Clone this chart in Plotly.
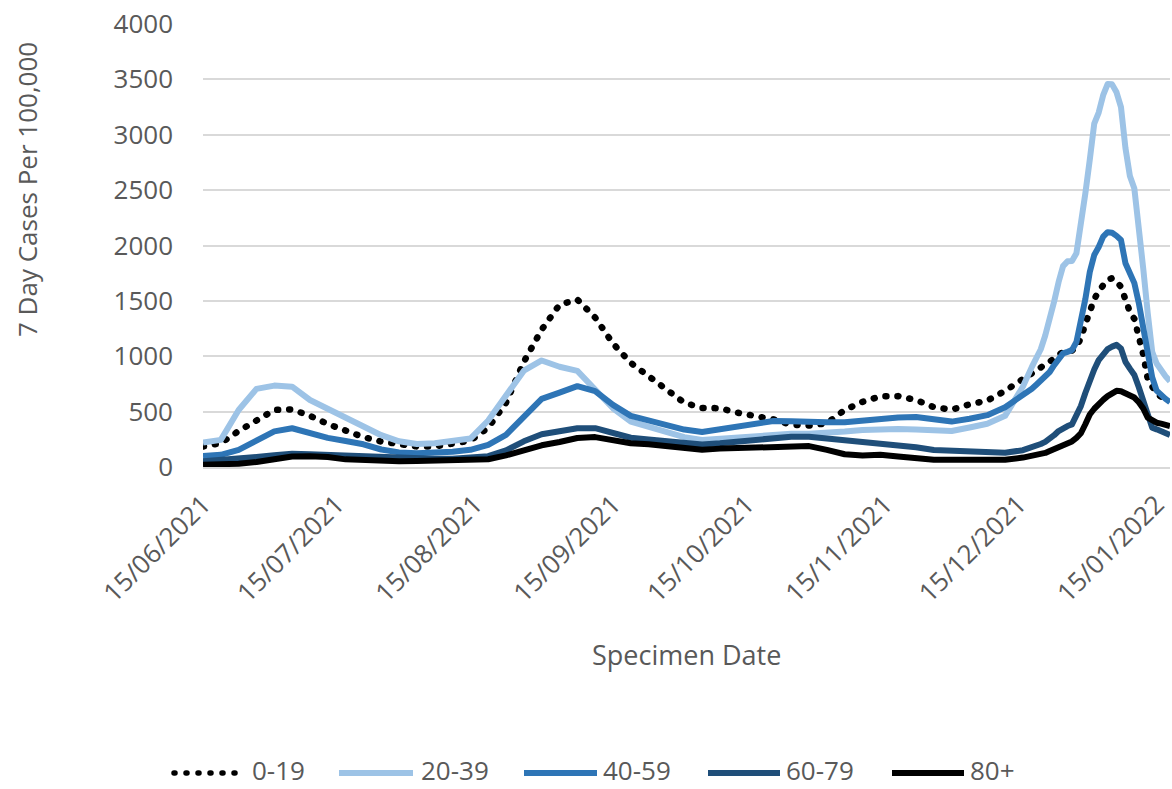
import pandas as pd
import plotly.graph_objects as go

# Specimen dates: every 4 days through mid-December, then daily to the end of the series
dates = list(pd.date_range("2021-06-15", "2021-12-16", freq="4D")) + \
        list(pd.date_range("2021-12-18", "2022-01-18", freq="D"))

# 7-day case rates per 100,000 by age band
age_0_19 = [185, 215, 325, 428, 515, 520, 462, 388, 325, 270, 230, 204, 185, 185, 207, 238,
            355, 580, 950, 1240, 1465, 1512, 1350, 1115, 940, 815, 705, 580, 533, 531, 490,
            458, 430, 382, 375, 395, 515, 588, 638, 640, 605, 540, 518, 565, 600, 688, 800,
            855, 885, 905, 925, 950, 980, 1010, 1040, 1051, 1051, 1080, 1165, 1290, 1415,
            1515, 1590, 1650, 1690, 1705, 1680, 1625, 1520, 1400, 1337, 1180, 1015, 796, 715,
            660, 635, 615, 600]

age_20_39 = [220, 245, 515, 705, 735, 725, 605, 528, 445, 367, 287, 232, 207, 215, 232, 257,
             420, 655, 870, 962, 905, 868, 700, 530, 410, 365, 320, 270, 245, 255, 270, 286,
             295, 300, 300, 305, 320, 335, 345, 342, 338, 332, 325, 356, 390, 462, 727,
             904, 985, 1063, 1187, 1330, 1494, 1670, 1814, 1857, 1860, 1930, 2180, 2470, 2775,
             3100, 3200, 3357, 3458, 3455, 3383, 3250, 2880, 2628, 2514, 2180, 1790, 1390,
             1040, 935, 870, 820, 775]

age_40_59 = [100, 110, 155, 238, 322, 350, 305, 263, 235, 205, 158, 132, 125, 130, 138, 155,
             200, 290, 460, 615, 672, 730, 685, 561, 462, 425, 388, 338, 316, 338, 360, 385,
             415, 412, 405, 405, 405, 423, 438, 447, 452, 426, 410, 436, 468, 540, 642,
             706, 743, 780, 815, 858, 919, 980, 1026, 1040, 1055, 1128, 1295, 1515, 1760,
             1915, 1987, 2080, 2120, 2115, 2087, 2050, 1840, 1735, 1660, 1480, 1270, 1025,
             810, 690, 645, 615, 585]

age_60_79 = [52, 62, 72, 90, 106, 120, 116, 110, 98, 88, 82, 75, 74, 74, 74, 80, 98, 150, 232,
             295, 318, 350, 351, 310, 264, 248, 235, 214, 204, 214, 228, 244, 262, 274, 274,
             259, 240, 227, 218, 197, 178, 153, 145, 141, 137, 129, 152,
             176, 190, 208, 227, 250, 287, 325, 354, 370, 385, 457, 550, 668, 788, 880, 965,
             1026, 1065, 1087, 1103, 1070, 950, 888, 830, 720, 590, 450, 355, 340, 323, 305,
             288]

age_80_plus = [20, 23, 30, 46, 73, 94, 97, 90, 69, 60, 56, 52, 55, 58, 53, 56, 70, 105, 150,
               196, 226, 262, 270, 238, 214, 206, 192, 172, 156, 166, 172, 176, 188, 192, 189,
               155, 115, 104, 110, 94, 73, 65, 65, 65, 65, 65, 85,
               98, 105, 112, 127, 145, 162, 180, 204, 225, 231, 263, 305, 386, 474, 526, 573,
               606, 640, 664, 688, 684, 661, 643, 627, 585, 528, 446, 418, 400, 392, 383, 370]

series_names = ["0-19", "20-39", "40-59", "60-79", "80+"]
series_values = [age_0_19, age_20_39, age_40_59, age_60_79, age_80_plus]
series_colors = ["#000000", "#9DC3E6", "#2E75B6", "#1F4E79", "#000000"]
series_dash = ["1px,11px", "solid", "solid", "solid", "solid"]
series_width = [6.5, 6, 6, 6, 6]

y_ticks = [0, 500, 1000, 1500, 2000, 2500, 3000, 3500, 4000]

FONT = "Open Sans"
GREY = "#595959"
W, H = 1172, 789
M_L, M_R, M_T, M_B = 203, 2, 24, 322
PW, PH = W - M_L - M_R, H - M_T - M_B


def px_x(px):
    return (px - M_L) / PW


def px_y(py):
    return (H - M_B - py) / PH


fig = go.Figure()
for name, vals, col, dash, lw in zip(series_names, series_values, series_colors,
                                     series_dash, series_width):
    fig.add_trace(go.Scatter(
        x=dates, y=vals, name=name, mode="lines",
        line=dict(color=col, width=lw, dash=dash),
        showlegend=False,
    ))

# legend drawn underneath the chart: long line samples followed by labels
legend_spans = [(174, 237, 250), (339, 413, 419), (524, 597, 601), (708, 780, 784), (892, 964, 968)]
legend_line_y = 773
legend_text_y = 770
shapes = []
annotations = []
for (x0, x1, xt), name, col, dash, lw in zip(legend_spans, series_names, series_colors,
                                            series_dash, series_width):
    shapes.append(dict(type="line", xref="paper", yref="paper",
                       x0=px_x(x0), x1=px_x(x1), y0=px_y(legend_line_y), y1=px_y(legend_line_y),
                       line=dict(color=col, width=lw if dash == "solid" else 5.5, dash=dash)))
    annotations.append(dict(text=name, xref="paper", yref="paper", x=px_x(xt), y=px_y(legend_text_y),
                            xanchor="left", yanchor="middle", showarrow=False,
                            font=dict(family=FONT, size=26, color=GREY)))

annotations.append(dict(text="7 Day Cases Per 100,000", xref="paper", yref="paper",
                        x=px_x(27), y=px_y(190), textangle=-90, showarrow=False,
                        xanchor="center", yanchor="middle",
                        font=dict(family=FONT, size=26, color=GREY)))
annotations.append(dict(text="Specimen Date", xref="paper", yref="paper",
                        x=px_x(686), y=px_y(654), showarrow=False,
                        xanchor="center", yanchor="middle",
                        font=dict(family=FONT, size=27, color=GREY)))

fig.update_layout(
    width=W, height=H,
    margin=dict(l=M_L, r=M_R, t=M_T, b=M_B, pad=0),
    paper_bgcolor="white", plot_bgcolor="white",
    font=dict(family=FONT, color=GREY),
    shapes=shapes, annotations=annotations,
    showlegend=False,
)
fig.update_xaxes(
    type="date", range=["2021-06-15", "2022-01-18"],
    tick0="2021-06-15", dtick="M1", tickformat="%d/%m/%Y", tickangle=-45,
    tickfont=dict(family=FONT, size=26, color=GREY),
    showgrid=False, showline=True, linecolor="#D9D9D9", linewidth=1.5,
    ticks="", zeroline=False, ticklabelstandoff=10,
)
fig.update_yaxes(
    range=[0, 4000], tickvals=y_ticks,
    tickfont=dict(family=FONT, size=26, color=GREY),
    showgrid=True, gridcolor="#D9D9D9", gridwidth=1.5,
    zeroline=False, showline=False, ticks="", ticklabelstandoff=29,
)

round_caps = """
var gd = document.getElementById('{plot_id}');
gd.querySelectorAll('path').forEach(function (p) {
  var d = p.style.strokeDasharray || '';
  if (/^1px,\\s*11px/.test(d)) { p.style.strokeLinecap = 'round'; }
  if (p.classList.contains('js-line')) { p.style.strokeLinejoin = 'round'; }
});
"""

fig.write_html("out.html", post_script=round_caps)
